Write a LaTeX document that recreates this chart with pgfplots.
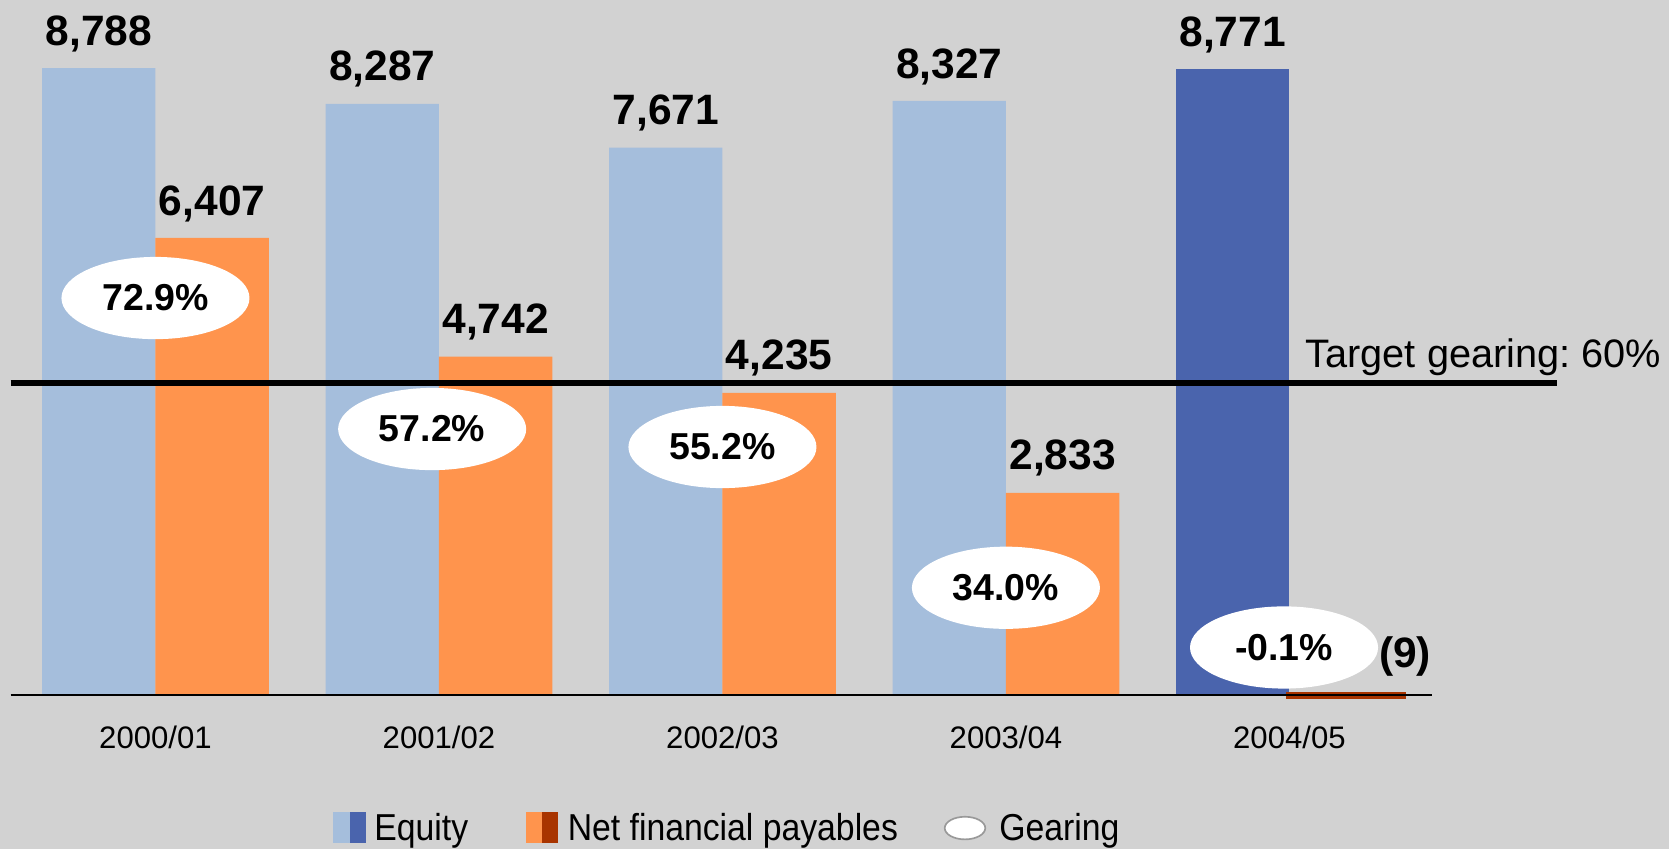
\documentclass[border=0pt]{standalone}
\usepackage{fontspec}
\setmainfont{Liberation Sans}
\newfontfamily\legfont[FakeStretch=0.9]{Liberation Sans}
\usepackage{pgfplots}
\pgfplotsset{compat=1.18}
\usetikzlibrary{shapes.geometric}
\definecolor{bg}{RGB}{210,210,210}
\definecolor{eqL}{RGB}{165,190,220}
\definecolor{eqD}{RGB}{74,100,173}
\definecolor{nfL}{RGB}{255,148,77}
\definecolor{nfD}{RGB}{168,52,0}
\frenchspacing
\begin{document}
\begin{tikzpicture}
\fill[bg] (0,0) rectangle (600.84pt,-305.64pt);
\useasboundingbox (0,0) rectangle (600.84pt,-305.64pt);
\begin{axis}[
  at={(3.82pt,-257.9pt)}, anchor=south west,
  scale only axis, width=511.6pt, height=251.7pt,
  xmin=-0.511, xmax=4.502, ymin=-300, ymax=9500,
  axis line style={draw=none}, ytick=\empty,
  xtick={0,1,2,3,4},
  xticklabels={2000/01,2001/02,2002/03,2003/04,2004/05},
  major tick length=0pt,
  xticklabel style={font=\fontsize{11.2}{13}\selectfont},
  clip=false,
  /pgf/number format/.cd, 1000 sep={,}, assume math mode=true,
  /pgfplots/.cd,
  every node near coord/.append style={font=\bfseries\fontsize{15.3}{18}\selectfont, anchor=center, yshift=12.4pt, text=black},
]
\addplot[ybar, bar width=0.4, bar shift=-0.2, fill=eqL, draw=none, nodes near coords,
  every node near coord/.append style={xshift=-20.41pt}]
  coordinates {(0,8788) (1,8287) (2,7671) (3,8327)};
\addplot[ybar, bar width=0.4, bar shift=-0.2, fill=eqD, draw=none, nodes near coords,
  every node near coord/.append style={xshift=-20.41pt}]
  coordinates {(4,8771)};
\addplot[ybar, bar width=0.4, bar shift=0.2, fill=nfL, draw=none, nodes near coords,
  every node near coord/.append style={xshift=20.41pt}]
  coordinates {(0,6407) (1,4742) (2,4235) (3,2833)};
\addplot[ybar, bar width=0.4, bar shift=0.2, fill=nfD, draw=nfD, line width=2.4pt]
  coordinates {(4,-9)};
\draw[black, line width=1pt] (axis cs:-0.511,0) -- (axis cs:4.502,0);
\draw[black, line width=2pt] (axis cs:-0.511,4373) -- (axis cs:4.944,4373);
\node[anchor=base west, inner sep=0pt, font=\fontsize{14.3}{17}\selectfont] at (axis cs:4.055,4597) {Target gearing: 60\%};
\node[anchor=center, inner sep=0pt, font=\bfseries\fontsize{15.3}{18}\selectfont] at (axis cs:4.408,540) {(9)};
\addplot[draw=none, mark=none, nodes near coords, point meta=explicit symbolic,
  every node near coord/.style={ellipse, fill=white, draw=none, minimum width=67.7pt, minimum height=29.6pt, inner sep=0pt, anchor=center, font=\bfseries\fontsize{13.5}{16}\selectfont, text=black}]
  coordinates {(0,5564) [72.9\%] (0.976,3728) [57.2\%] (2,3476) [55.2\%] (3,1503) [34.0\%] (3.981,666) [-0.1\%]};
\end{axis}
% legend
\fill[eqL] (119.9pt,-292.3pt) rectangle (126.0pt,-303.5pt);
\fill[eqD] (126.0pt,-292.3pt) rectangle (131.8pt,-303.5pt);
\node[anchor=base west, inner sep=0pt, font=\legfont\fontsize{13.5}{16}\selectfont] at (134.6pt,-302.4pt) {Equity};
\fill[nfL] (189.3pt,-292.3pt) rectangle (195.0pt,-303.5pt);
\fill[nfD] (195.0pt,-292.3pt) rectangle (200.7pt,-303.5pt);
\node[anchor=base west, inner sep=0pt, font=\legfont\fontsize{13.5}{16}\selectfont] at (204.2pt,-302.4pt) {Net financial payables};
\filldraw[fill=white, draw=gray!80, line width=0.6pt] (347.4pt,-298.1pt) ellipse [x radius=7.3pt, y radius=4.07pt];
\node[anchor=base west, inner sep=0pt, font=\legfont\fontsize{13.5}{16}\selectfont] at (359.6pt,-302.4pt) {Gearing};
\end{tikzpicture}
\end{document}
